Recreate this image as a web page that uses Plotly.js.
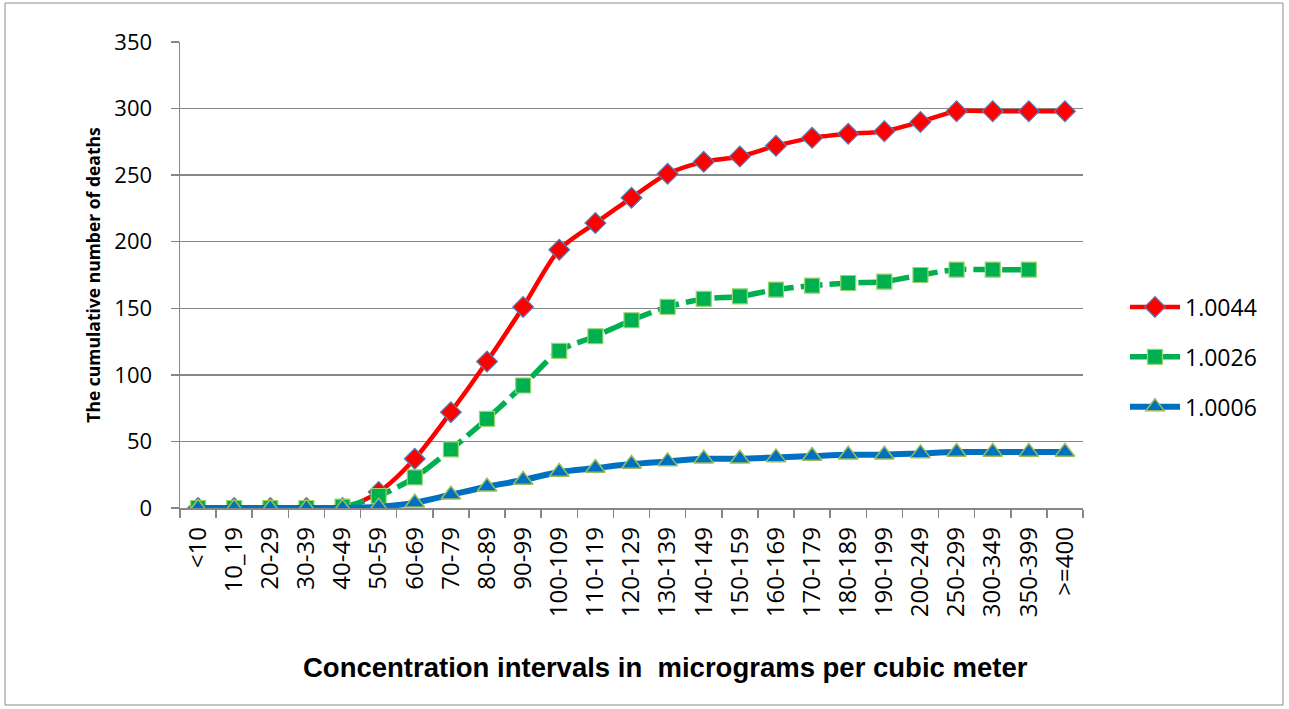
<!DOCTYPE html>
<html>
<head>
<meta charset="utf-8">
<script src="https://cdn.plot.ly/plotly-3.0.1.min.js"></script>
<style>
  html, body { margin: 0; padding: 0; background: #fff; }
  #chart { width: 1289px; height: 709px; }
</style>
</head>
<body>
<div id="chart"></div>
<script>
const categories = ["<10", "10_19", "20-29", "30-39", "40-49", "50-59", "60-69", "70-79", "80-89", "90-99",
  "100-109", "110-119", "120-129", "130-139", "140-149", "150-159", "160-169", "170-179", "180-189", "190-199",
  "200-249", "250-299", "300-349", "350-399", ">=400"];

const series1Name = "1.0044";
const series1 = [0, 0, 0, 0, 0, 12, 37, 72, 110, 151, 194, 214, 233, 251, 260, 264, 272, 278, 281, 283, 290, 298, 298, 298, 298];

const series2Name = "1.0026";
const series2 = [0, 0, 0, 0, 1, 9, 23, 44, 67, 92, 118, 129, 141, 151, 157, 159, 164, 167, 169, 170, 175, 179, 179, 179, null];

const series3Name = "1.0006";
const series3 = [0, 0, 0, 0, 0, 1, 4, 10, 16, 21, 27, 30, 33, 35, 37, 37, 38, 39, 40, 40, 41, 42, 42, 42, 42];

const yTickValues = [0, 50, 100, 150, 200, 250, 300, 350];

const xTitle = "Concentration intervals in  micrograms per cubic meter";
const yTitle = "The cumulative number of deaths";

const GRID = "#878787";

const traces = [
  {
    x: categories, y: series1, name: series1Name, type: "scatter", mode: "lines+markers",
    legendgroup: "a",
    line: { color: "#FF0000", width: 4.5, shape: "spline", smoothing: 0.8 },
    marker: { symbol: "diamond", size: 16, color: "#FF0000", line: { color: "#4F81BD", width: 1.2 } }
  },
  {
    x: categories, y: series2, name: series2Name, type: "scatter", mode: "lines+markers",
    legendgroup: "b",
    line: { color: "#00B050", width: 5.5, shape: "spline", smoothing: 0.8, dash: "22px,7px" },
    marker: { symbol: "square", size: 15, color: "#00B050", line: { color: "#9BD46A", width: 1.2 } }
  },
  {
    x: categories, y: series3, name: series3Name, type: "scatter", mode: "lines+markers",
    legendgroup: "c",
    line: { color: "#0070C0", width: 6, shape: "spline", smoothing: 0.8 },
    marker: { symbol: "triangle-up", size: 17, color: "#0070C0", line: { color: "#9BBB59", width: 1.5 } }
  }
];

// plot area in px: x 180..1083, y 42..508
const L = 180, R = 1083, T = 42, B = 508;
const W = R - L, H = B - T;
function px(x) { return (x - L) / W; }
function py(y) { return (B - y) / H; }

const layout = {
  width: 1289, height: 709,
  margin: { l: L, r: 1289 - R, t: T, b: 709 - B, pad: 0 },
  paper_bgcolor: "#ffffff",
  plot_bgcolor: "#ffffff",
  font: { family: "Open Sans, sans-serif", color: "#000000", size: 22 },
  showlegend: true,
  legend: {
    x: px(1125), xanchor: "left",
    y: py(357), yanchor: "middle",
    font: { family: "Open Sans, sans-serif", size: 23, color: "#000" },
    traceorder: "grouped",
    tracegroupgap: 17,
    itemwidth: 50,
    bgcolor: "rgba(0,0,0,0)"
  },
  xaxis: {
    type: "category",
    categoryorder: "array",
    categoryarray: categories,
    range: [-0.5, categories.length - 0.5],
    showgrid: false,
    zeroline: false,
    showline: true,
    linecolor: GRID,
    linewidth: 1.5,
    ticks: "outside",
    tickson: "boundaries",
    ticklen: 8,
    tickcolor: GRID,
    tickwidth: 1.5,
    tickangle: -90,
    ticklabelstandoff: 8,
    tickfont: { family: "Open Sans, sans-serif", size: 24, color: "#000" },
    automargin: false
  },
  yaxis: {
    range: [0, 350],
    tickvals: yTickValues,
    showgrid: true,
    gridcolor: GRID,
    gridwidth: 1.5,
    zeroline: false,
    showline: true,
    linecolor: GRID,
    linewidth: 1.5,
    ticks: "outside",
    ticklen: 8,
    tickcolor: GRID,
    tickwidth: 1.5,
    ticklabelstandoff: 14,
    tickfont: { family: "Open Sans, sans-serif", size: 22, color: "#000" },
    automargin: false,
    title: {
      text: yTitle,
      font: { family: "Open Sans, sans-serif", size: 17.5, color: "#000", weight: "bold" },
      standoff: 9
    }
  },
  annotations: [
    {
      text: xTitle,
      xref: "paper", yref: "paper",
      x: px(665), y: py(667),
      xanchor: "center", yanchor: "middle",
      showarrow: false,
      font: { family: "Liberation Sans, Arial, sans-serif", size: 27.5, color: "#000", weight: "bold" }
    }
  ],
  shapes: [
    {
      type: "rect", xref: "paper", yref: "paper",
      x0: px(5), x1: px(1283), y0: py(705), y1: py(3),
      line: { color: "#8c8c8c", width: 1 }, fillcolor: "rgba(0,0,0,0)", layer: "below"
    }
  ]
};

Plotly.newPlot("chart", traces, layout, { displayModeBar: false, staticPlot: true });
</script>
</body>
</html>
